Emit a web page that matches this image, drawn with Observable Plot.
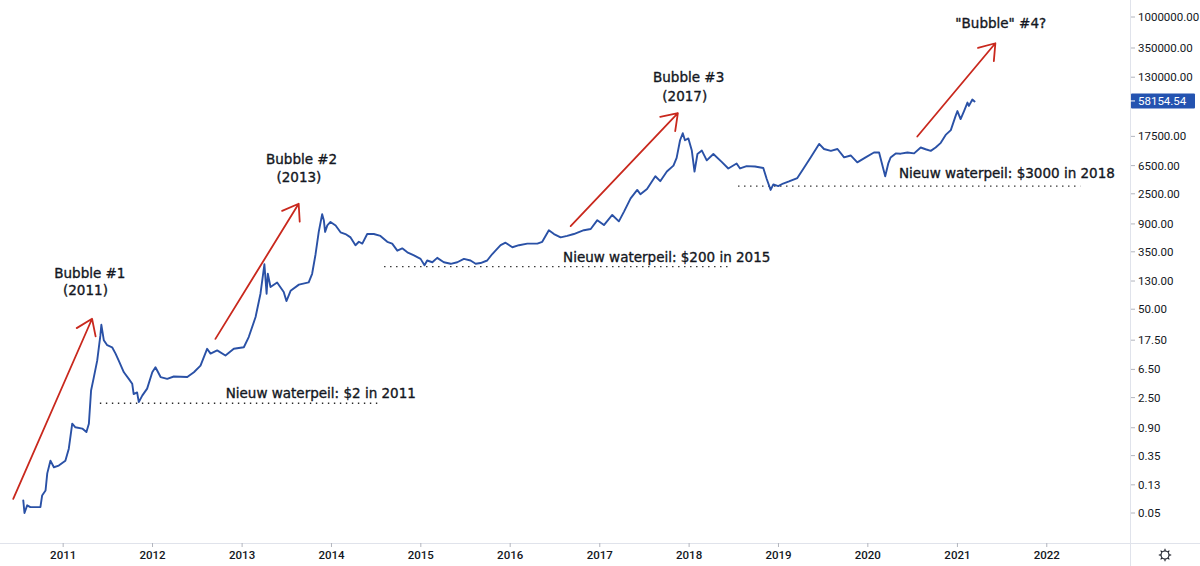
<!DOCTYPE html>
<html><head><meta charset="utf-8">
<script src="https://cdn.jsdelivr.net/npm/d3@7"></script>
<script src="https://cdn.jsdelivr.net/npm/@observablehq/plot@0.6"></script>
<style>
html,body{margin:0;padding:0;background:#fff;}
#chart{position:relative;width:1200px;height:566px;overflow:hidden;}
</style></head><body><div id="chart"></div>
<script>
// ---- price series ----
const dates = [
"2010-07-22","2010-07-27","2010-08-07","2010-08-20","2010-09-30","2010-10-07","2010-10-21","2010-10-28","2010-11-10","2010-11-24","2010-12-14",
"2011-01-10","2011-01-24","2011-02-07","2011-02-20","2011-03-20","2011-04-06","2011-04-16","2011-04-25","2011-05-06","2011-05-20","2011-06-02","2011-06-06","2011-06-16","2011-06-30","2011-07-20","2011-08-03","2011-08-16","2011-09-06","2011-09-26","2011-10-10","2011-10-16","2011-10-30","2011-11-06","2011-11-20","2011-12-10","2011-12-31",
"2012-01-13","2012-02-03","2012-03-01","2012-03-28","2012-05-22","2012-06-18","2012-07-15","2012-08-11","2012-08-25","2012-09-21","2012-10-25","2012-11-28",
"2013-01-08","2013-01-28","2013-02-25","2013-03-17","2013-04-02","2013-04-11","2013-04-16","2013-04-27","2013-05-24","2013-06-20","2013-07-01","2013-07-18","2013-08-21","2013-09-30","2013-10-14","2013-10-28","2013-11-10","2013-11-24","2013-12-01","2013-12-06","2013-12-15","2013-12-28",
"2014-01-18","2014-02-07","2014-02-27","2014-03-20","2014-04-09","2014-04-23","2014-05-07","2014-05-27","2014-06-23","2014-07-20","2014-08-17","2014-09-06","2014-09-27","2014-10-17","2014-11-07","2014-12-04","2014-12-31",
"2015-01-16","2015-01-27","2015-02-17","2015-03-09","2015-04-05","2015-05-03","2015-05-30","2015-06-26","2015-07-23","2015-08-13","2015-09-02","2015-09-29","2015-10-20","2015-11-02","2015-11-23","2015-12-13",
"2016-01-10","2016-02-06","2016-03-11","2016-04-21","2016-05-11","2016-06-07","2016-06-28","2016-07-25","2016-08-21","2016-09-17","2016-10-28","2016-11-25","2016-12-22",
"2017-01-18","2017-02-21","2017-03-20","2017-04-10","2017-05-07","2017-06-03","2017-06-16","2017-07-13","2017-08-16","2017-09-05","2017-10-02","2017-10-29","2017-11-11","2017-11-25","2017-12-06","2017-12-15","2017-12-29",
"2018-01-12","2018-01-23","2018-02-04","2018-02-22","2018-03-14","2018-04-10","2018-05-14","2018-06-10","2018-07-14","2018-07-28","2018-08-24","2018-09-27","2018-10-31","2018-11-14","2018-11-30","2018-12-11","2018-12-31",
"2019-01-20","2019-02-13","2019-03-19","2019-04-16","2019-05-13","2019-06-16","2019-07-06","2019-08-03","2019-08-30","2019-09-26","2019-10-23","2019-11-19","2019-12-23",
"2020-01-26","2020-02-16","2020-03-12","2020-03-25","2020-04-03","2020-04-24","2020-05-14","2020-06-11","2020-07-08","2020-08-04","2020-08-24","2020-09-14","2020-10-04","2020-10-25","2020-11-14","2020-12-05","2020-12-25",
"2021-01-01","2021-01-14","2021-01-28","2021-02-11","2021-02-17","2021-03-03","2021-03-12"
];
const prices = [
0.078,0.051,0.066,0.062,0.062,0.092,0.109,0.195,0.30,0.24,0.254,
0.30,0.45,1.05,0.93,0.89,0.79,1.05,3.24,5.0,8.9,20.9,30,17.8,15,14,11.3,8.9,6.0,4.8,4.07,2.87,3.03,2.18,2.72,3.45,6.0,
7.1,5.1,4.8,5.2,5.1,6.0,7.5,13.3,11.3,12.6,10.6,13.3,
14.0,19.8,39,86,233,86,169,108,126,91,67,95,117,126,169,328,700,1270,1027,700,870,980,
870,690,650,580,445,500,470,650,650,610,500,470,370,400,350,315,280,
225,265,250,290,250,237,250,280,265,237,243,265,330,370,445,485,
415,445,470,470,500,740,650,580,610,650,740,770,1040,
880,1240,1000,1390,2180,2900,2500,3000,4600,3900,5400,6600,8600,15600,19800,15600,16600,
11000,5400,9800,11000,7900,9800,7500,6000,7100,6000,6500,6400,6100,4200,2900,3500,3300,
3600,3860,4330,6180,8750,13800,11600,10900,11600,8750,9320,7380,8750,
10300,10300,4600,7200,8700,10000,9900,10300,10000,12200,11500,10900,12200,14300,18700,22000,36000,
42000,32000,42000,56000,50000,62000,58154.54
];
const lastPrice = 58154.54;

// ---- axes ----
const yTicks = [0.05,0.13,0.35,0.9,2.5,6.5,17.5,50,130,350,900,2500,6500,17500,130000,350000,1000000];
const xTickYears = [2011,2012,2013,2014,2015,2016,2017,2018,2019,2020,2021,2022];
const xDomain = ["2010-04-20","2022-12-09"];
const yDomain = [0.0181,1.78e6];

// ---- "Nieuw waterpeil" floors ----
const floorPrices = [2.1,215,3300];
const floorStarts = ["2011-06-02","2014-08-06","2018-07-22"];
const floorEnds = ["2014-07-20","2018-06-20","2022-05-20"];
const floorLabels = ["Nieuw waterpeil: $2 in 2011","Nieuw waterpeil: $200 in 2015","Nieuw waterpeil: $3000 in 2018"];
const floorLabelDates = ["2012-10-26","2016-08-04","2020-05-07"];
const floorLabelPrices = [2.89,296,5000];

// ---- bubble titles ----
const bubbleLabels = ["Bubble #1","(2011)","Bubble #2","(2013)","Bubble #3","(2017)","\"Bubble\" #4?"];
const bubbleDates = ["2011-04-20","2011-04-02","2013-09-01","2013-08-21","2017-12-30","2017-12-14","2021-06-27"];
const bubblePrices = [171,95.5,8120,4455,132000,68700,807000];

// ---- red arrows ----
const arrowStartDates = ["2010-06-11","2012-09-14","2016-09-04","2020-07-21"];
const arrowStartPrices = [0.082,18.6,850,17700];
const arrowEndDates = ["2011-04-29","2013-08-20","2017-11-16","2021-06-05"];
const arrowEndPrices = [36.8,1814,39000,418000];

const series = dates.map((d,i)=>({date:new Date(d), price:prices[i]}));
const floors = floorPrices.map((p,i)=>({price:p, start:new Date(floorStarts[i]), end:new Date(floorEnds[i])}));
const floorText = floorLabels.map((t,i)=>({text:t, date:new Date(floorLabelDates[i]), price:floorLabelPrices[i]}));
const bubbleText = bubbleLabels.map((t,i)=>({text:t, date:new Date(bubbleDates[i]), price:bubblePrices[i]}));
const arrows = arrowStartDates.map((d,i)=>({x1:new Date(d), y1:arrowStartPrices[i], x2:new Date(arrowEndDates[i]), y2:arrowEndPrices[i]}));
const xTicks = xTickYears.map(y=>new Date(y,0,1));

const annFont = "'DejaVu Sans', Verdana, sans-serif";
const axisFont = "Roboto, 'Noto Sans', sans-serif";

const chart = Plot.plot({
  width:1200, height:566,
  marginLeft:0, marginRight:70, marginTop:0, marginBottom:23,
  style:{fontFamily:axisFont, fontSize:"11.5px", color:"#131722", background:"#ffffff", overflow:"visible"},
  x:{type:"time", domain:xDomain.map(d=>new Date(d))},
  y:{type:"log", domain:yDomain, axis:null},
  marks:[
    Plot.ruleY(floors,{y:"price", x1:"start", x2:"end", stroke:"#2b2b2b", strokeWidth:1.4, strokeDasharray:"1.4,4.6"}),
    Plot.line(series,{x:"date", y:"price", stroke:"#2a51a6", strokeWidth:1.9, strokeLinejoin:"round"}),
    Plot.arrow(arrows,{x1:"x1", y1:"y1", x2:"x2", y2:"y2", stroke:"#c9281d", strokeWidth:1.8, headLength:15, headAngle:70}),
    Plot.text(bubbleText,{x:"date", y:"price", text:"text", textAnchor:"middle", fontSize:13.5, fontFamily:annFont, fill:"#131722", stroke:"#131722", strokeWidth:0.35}),
    Plot.text(floorText,{x:"date", y:"price", text:"text", textAnchor:"start", fontSize:13.5, fontFamily:annFont, fill:"#131722", stroke:"#131722", strokeWidth:0.35}),
    Plot.axisX(xTicks,{anchor:"bottom", tickFormat:"%Y", tickSize:4, tickPadding:3, stroke:"#b2b5be", fill:"#131722", fontWeight:500})
  ]
});
document.getElementById("chart").appendChild(chart);

// right price axis drawn through Plot's own y scale
const svg = d3.select(chart);
const yS = chart.scale("y");
const xRight = 1130, yBottom = 543;
svg.insert("line",":first-child").attr("x1",0).attr("x2",1200).attr("y1",yBottom+0.5).attr("y2",yBottom+0.5).attr("stroke","#e0e3eb");
svg.insert("line",":first-child").attr("x1",xRight+0.5).attr("x2",xRight+0.5).attr("y1",0).attr("y2",566).attr("stroke","#e0e3eb");
const yAxis = svg.append("g").attr("class","y-axis");
yTicks.forEach(v => {
  const y = yS.apply(v);
  yAxis.append("line").attr("x1",xRight+1).attr("x2",xRight+5).attr("y1",y).attr("y2",y).attr("stroke","#b2b5be");
  yAxis.append("text").attr("x",xRight+8).attr("y",y).attr("dy","0.35em").attr("text-anchor","start")
    .attr("fill","#131722").attr("font-family",axisFont).attr("font-size",11.5).text(v.toFixed(2));
});
// last-price badge
const ly = yS.apply(lastPrice);
const badge = svg.append("g");
badge.append("rect").attr("x",xRight+1).attr("y",ly-7.5).attr("width",64).attr("height",15).attr("rx",1).attr("fill","#2453b0");
badge.append("line").attr("x1",xRight).attr("x2",xRight+5).attr("y1",ly).attr("y2",ly).attr("stroke","#ffffff");
badge.append("text").attr("x",xRight+8).attr("y",ly).attr("dy","0.35em").attr("fill","#ffffff").attr("text-anchor","start")
  .attr("font-family",axisFont).attr("font-size",11.5).text(lastPrice.toFixed(2));
// settings gear
const g = svg.append("g").attr("transform","translate(1165,555)").attr("stroke","#131722").attr("fill","none").attr("stroke-width",1.1);
g.append("circle").attr("r",4);
for (let k=0;k<8;k++){const a=k*Math.PI/4; g.append("line").attr("x1",4*Math.cos(a)).attr("y1",4*Math.sin(a)).attr("x2",6.2*Math.cos(a)).attr("y2",6.2*Math.sin(a));}
</script></body></html>
